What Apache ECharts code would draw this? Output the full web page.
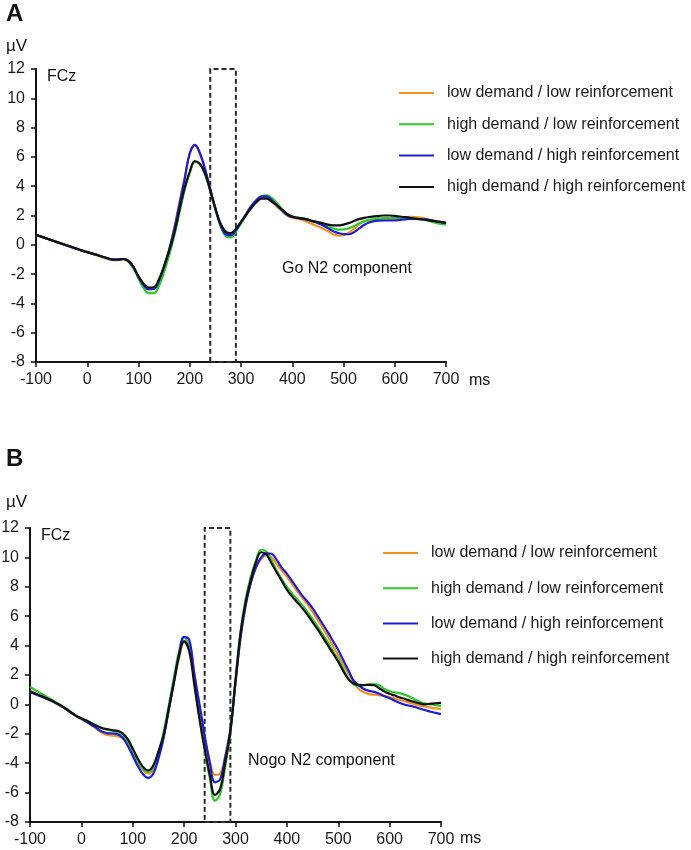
<!DOCTYPE html>
<html>
<head>
<meta charset="utf-8">
<script src="https://cdn.jsdelivr.net/npm/echarts@6/dist/echarts.min.js"></script>
<style>
  html, body { margin: 0; padding: 0; background: #fff; }
  #main { width: 691px; height: 850px; }
</style>
</head>
<body>
<div id="main"></div>
<script>
  // time points (ms), shared by every curve
  const times = [];
  for (let t = -100; t <= 700; t += 10) times.push(t);

  const names = [
    "low demand / low reinforcement",
    "high demand / low reinforcement",
    "low demand / high reinforcement",
    "high demand / high reinforcement"
  ];
  const colors = ["#f5901e", "#2ec82e", "#1c1cd8", "#111111"];

  // panel A - Go trials, FCz (µV)
  const goOrange = [
    0.68, 0.56, 0.44, 0.32, 0.2, 0.08, -0.04, -0.16, -0.27, -0.4,
    -0.5, -0.62, -0.74, -0.86, -0.97, -1.05, -1.04, -0.96, -1.06, -1.5,
    -2.2, -2.72, -3.0, -2.98, -2.45, -1.5, -0.3, 1.2, 2.9, 4.5,
    6.2, 6.78, 6.2, 5.1, 3.8, 2.5, 1.4, 0.8, 0.75, 1.05,
    1.55, 2.1, 2.6, 3.0, 3.22, 3.2, 2.95, 2.6, 2.3, 2.0,
    1.85, 1.78, 1.7, 1.55, 1.4, 1.25, 1.1, 0.92, 0.72, 0.62,
    0.65, 0.82, 1.08, 1.38, 1.6, 1.68, 1.7, 1.72, 1.74, 1.76,
    1.8, 1.85, 1.88, 1.9, 1.89, 1.85, 1.78, 1.7, 1.62, 1.55,
    1.48
  ];
  const goGreen = [
    0.68, 0.56, 0.44, 0.32, 0.2, 0.08, -0.04, -0.16, -0.27, -0.4,
    -0.5, -0.6, -0.7, -0.82, -0.93, -1.02, -1.02, -0.98, -1.15, -1.6,
    -2.3, -2.95, -3.3, -3.3, -2.8, -1.85, -0.7, 0.65, 2.2, 3.75,
    4.9, 5.65, 5.55, 4.8, 3.7, 2.4, 1.3, 0.6, 0.5, 0.9,
    1.45, 2.0, 2.55, 3.0, 3.3, 3.38, 3.2, 2.85, 2.45, 2.1,
    1.93, 1.85, 1.8, 1.72, 1.62, 1.52, 1.4, 1.26, 1.12, 1.04,
    1.05, 1.12, 1.27, 1.45, 1.6, 1.7, 1.76, 1.8, 1.82, 1.83,
    1.84, 1.85, 1.85, 1.83, 1.8, 1.76, 1.7, 1.6, 1.5, 1.43,
    1.38
  ];
  const goBlue = [
    0.68, 0.56, 0.43, 0.31, 0.19, 0.07, -0.05, -0.17, -0.29, -0.4,
    -0.5, -0.6, -0.7, -0.82, -0.92, -1.0, -1.0, -0.97, -1.1, -1.52,
    -2.2, -2.75, -3.05, -3.02, -2.45, -1.45, -0.3, 1.1, 2.8, 4.5,
    6.25, 6.82, 6.25, 5.15, 3.8, 2.45, 1.35, 0.72, 0.65, 1.0,
    1.55, 2.1, 2.65, 3.05, 3.3, 3.3, 3.05, 2.7, 2.35, 2.05,
    1.9, 1.83, 1.78, 1.72, 1.6, 1.48, 1.32, 1.12, 0.92, 0.8,
    0.73, 0.72, 0.85, 1.1, 1.35, 1.52, 1.62, 1.65, 1.66, 1.66,
    1.67, 1.7, 1.73, 1.76, 1.77, 1.76, 1.73, 1.68, 1.62, 1.56,
    1.5
  ];
  const goBlack = [
    0.68, 0.56, 0.44, 0.32, 0.2, 0.08, -0.04, -0.16, -0.27, -0.4,
    -0.5, -0.6, -0.7, -0.82, -0.93, -1.02, -1.02, -0.97, -1.1, -1.5,
    -2.15, -2.65, -2.93, -2.9, -2.35, -1.45, -0.4, 0.8, 2.4, 3.9,
    5.0, 5.72, 5.5, 4.85, 3.7, 2.5, 1.45, 0.9, 0.8, 1.1,
    1.55, 2.05, 2.5, 2.9, 3.15, 3.15, 2.95, 2.7, 2.4, 2.1,
    1.93, 1.85, 1.8, 1.72, 1.62, 1.55, 1.47, 1.38, 1.33, 1.32,
    1.38, 1.48, 1.62, 1.75, 1.84, 1.9, 1.94, 1.98, 2.0, 2.0,
    1.97, 1.93, 1.89, 1.84, 1.78, 1.74, 1.7, 1.65, 1.6, 1.55,
    1.5
  ];

  // panel B - Nogo trials, FCz (µV)
  const nogoOrange = [
    0.9, 0.74, 0.58, 0.42, 0.26, 0.08, -0.12, -0.34, -0.57, -0.8,
    -0.98, -1.18, -1.42, -1.68, -1.92, -2.08, -2.12, -2.16, -2.3, -2.7,
    -3.3, -3.95, -4.45, -4.7, -4.4, -3.5, -2.1, -0.4, 1.4, 3.1,
    4.2, 4.0, 2.1, -0.3, -2.3, -3.8, -4.8, -4.7, -3.5, -1.7,
    1.5, 4.6, 6.8, 8.3, 9.3, 9.9, 10.15, 10.0, 9.55, 9.1,
    8.7, 8.2, 7.7, 7.25, 6.8, 6.3, 5.75, 5.2, 4.6, 3.95,
    3.35, 2.7, 2.1, 1.5, 1.05, 0.82, 0.7, 0.66, 0.62, 0.58,
    0.5, 0.4, 0.3, 0.2, 0.1, 0.0, -0.08, -0.15, -0.22, -0.27,
    -0.3
  ];
  const nogoGreen = [
    1.2, 0.98, 0.78, 0.57, 0.37, 0.16, -0.05, -0.28, -0.52, -0.76,
    -0.95, -1.1, -1.28, -1.45, -1.62, -1.72, -1.8, -1.88, -2.05, -2.5,
    -3.15, -3.85, -4.4, -4.6, -4.25, -3.3, -1.9, -0.1, 1.8, 3.6,
    4.55, 3.9, 1.5, -1.0, -3.1, -5.0, -6.55, -6.1, -4.2, -1.9,
    1.7, 5.0, 7.2, 8.7, 9.8, 10.52, 10.4, 9.8, 9.1, 8.5,
    8.0, 7.55, 7.15, 6.75, 6.3, 5.8, 5.3, 4.75, 4.2, 3.6,
    3.05, 2.4, 1.75, 1.35, 1.25, 1.3, 1.36, 1.38, 1.3, 1.05,
    0.9, 0.82, 0.75, 0.65, 0.5, 0.32, 0.15, 0.05, 0.0, -0.05,
    -0.1
  ];
  const nogoBlue = [
    0.85, 0.7, 0.56, 0.42, 0.27, 0.1, -0.1, -0.32, -0.56, -0.8,
    -0.98, -1.18, -1.4, -1.62, -1.85, -1.95, -1.98, -2.02, -2.25, -2.8,
    -3.5, -4.2, -4.75, -5.0, -4.7, -3.7, -2.3, -0.4, 1.5, 3.4,
    4.6, 4.4, 2.0, 0.0, -2.1, -4.0, -5.3, -5.1, -3.6, -1.7,
    1.5, 4.6, 6.8, 8.3, 9.35, 10.0, 10.28, 10.25, 9.85, 9.3,
    8.9, 8.4, 7.9, 7.4, 7.0, 6.55, 6.0, 5.45, 4.9, 4.3,
    3.7, 3.0, 2.3, 1.62, 1.3, 1.05, 0.92, 0.85, 0.72, 0.55,
    0.42, 0.25, 0.1, -0.02, -0.1, -0.18, -0.3, -0.4, -0.5, -0.58,
    -0.66
  ];
  const nogoBlack = [
    0.9, 0.74, 0.6, 0.46, 0.3, 0.12, -0.08, -0.3, -0.55, -0.78,
    -0.95, -1.1, -1.28, -1.45, -1.6, -1.68, -1.75, -1.8, -1.95, -2.35,
    -3.0, -3.7, -4.25, -4.48, -4.15, -3.2, -2.1, -0.3, 1.5, 3.3,
    4.3, 3.6, 1.3, -1.0, -3.0, -4.8, -6.15, -5.75, -3.95, -1.85,
    1.6, 4.9, 7.0, 8.5, 9.7, 10.35, 10.2, 9.6, 9.0, 8.4,
    7.8, 7.35, 6.95, 6.55, 6.1, 5.6, 5.1, 4.55, 4.0, 3.45,
    2.9, 2.25, 1.7, 1.42, 1.33, 1.32, 1.33, 1.3, 1.1, 0.87,
    0.72, 0.6, 0.47, 0.37, 0.25, 0.15, 0.05, 0.0, 0.05, 0.08,
    0.11
  ];

  const xTicks = { min: -100, max: 700, step: 100 };
  const yTicks = { min: -8, max: 12, step: 2 };
  const windowMs = [240, 290];

  const font = "'Liberation Sans', Arial, sans-serif";
  const pairs = (vals) => vals.map((v, i) => [times[i], v]);

  function axisPair(idx) {
    const x = {
      type: "value", gridIndex: idx,
      min: xTicks.min, max: xTicks.max, interval: xTicks.step,
      splitLine: { show: false },
      axisLine: { onZero: false, lineStyle: { color: "#111", width: 2 } },
      axisTick: { length: 5, lineStyle: { color: "#111", width: 1.5 } },
      axisLabel: { color: "#1a1a1a", fontSize: 16, fontFamily: font, margin: 10 }
    };
    const y = {
      type: "value", gridIndex: idx,
      min: yTicks.min, max: yTicks.max, interval: yTicks.step,
      splitLine: { show: false },
      axisLine: { show: true, onZero: false, lineStyle: { color: "#111", width: 2 } },
      axisTick: { show: true, length: 5, lineStyle: { color: "#111", width: 1.5 } },
      axisLabel: { color: "#1a1a1a", fontSize: 16, fontFamily: font, margin: 11 }
    };
    return [x, y];
  }

  function panelSeries(idx, sets) {
    return sets.map((vals, k) => {
      const s = {
        name: names[k], type: "line", xAxisIndex: idx, yAxisIndex: idx,
        data: pairs(vals), smooth: 0.4, showSymbol: false, silent: true,
        lineStyle: { color: colors[k], width: 2.2 }, itemStyle: { color: colors[k] }
      };
      if (k === sets.length - 1) {
        s.markArea = {
          silent: true,
          itemStyle: { color: "rgba(0,0,0,0)", borderColor: "#2a2a2a", borderWidth: 2, borderType: [5, 3] },
          data: [[{ coord: [windowMs[0], yTicks.min] }, { coord: [windowMs[1], 12.15] }]]
        };
      }
      return s;
    });
  }

  const axA = axisPair(0), axB = axisPair(1);

  function txt(x, y, text, size, weight) {
    return {
      type: "text", x: x, y: y, silent: true,
      style: { text: text, fontSize: size, fontFamily: font, fontWeight: weight || "normal",
               fill: "#111", verticalAlign: "middle", align: "left" }
    };
  }

  function legendAt(left, top, gap) {
    return {
      left: left, top: top, orient: "vertical", icon: "rect",
      itemWidth: 35, itemHeight: 2, itemGap: gap, selectedMode: false,
      textStyle: { fontSize: 16, fontFamily: font, color: "#1a1a1a", lineHeight: 16, padding: [0, 0, 0, 8] },
      data: names
    };
  }

  const chart = echarts.init(document.getElementById("main"));
  chart.setOption({
    animation: false,
    backgroundColor: "#fff",
    grid: [
      { left: 36, top: 69, width: 410, height: 293, outerBoundsMode: "none" },
      { left: 30, top: 528, width: 411, height: 294, outerBoundsMode: "none" }
    ],
    xAxis: [axA[0], axB[0]],
    yAxis: [axA[1], axB[1]],
    legend: [legendAt(394, 80, 15.3), legendAt(378, 540, 19.2)],
    series: panelSeries(0, [goOrange, goGreen, goBlue, goBlack])
      .concat(panelSeries(1, [nogoOrange, nogoGreen, nogoBlue, nogoBlack])),
    graphic: [
      txt(6, 14, "A", 24, "bold"),
      txt(6, 46, "µV", 17),
      txt(47, 77, "FCz", 16),
      txt(282, 269, "Go N2 component", 16),
      txt(469, 381, "ms", 16),
      txt(6, 459, "B", 24, "bold"),
      txt(6, 502, "µV", 17),
      txt(41, 536, "FCz", 16),
      txt(248, 761, "Nogo N2 component", 16),
      txt(460, 839, "ms", 16)
    ]
  });
</script>
</body>
</html>
